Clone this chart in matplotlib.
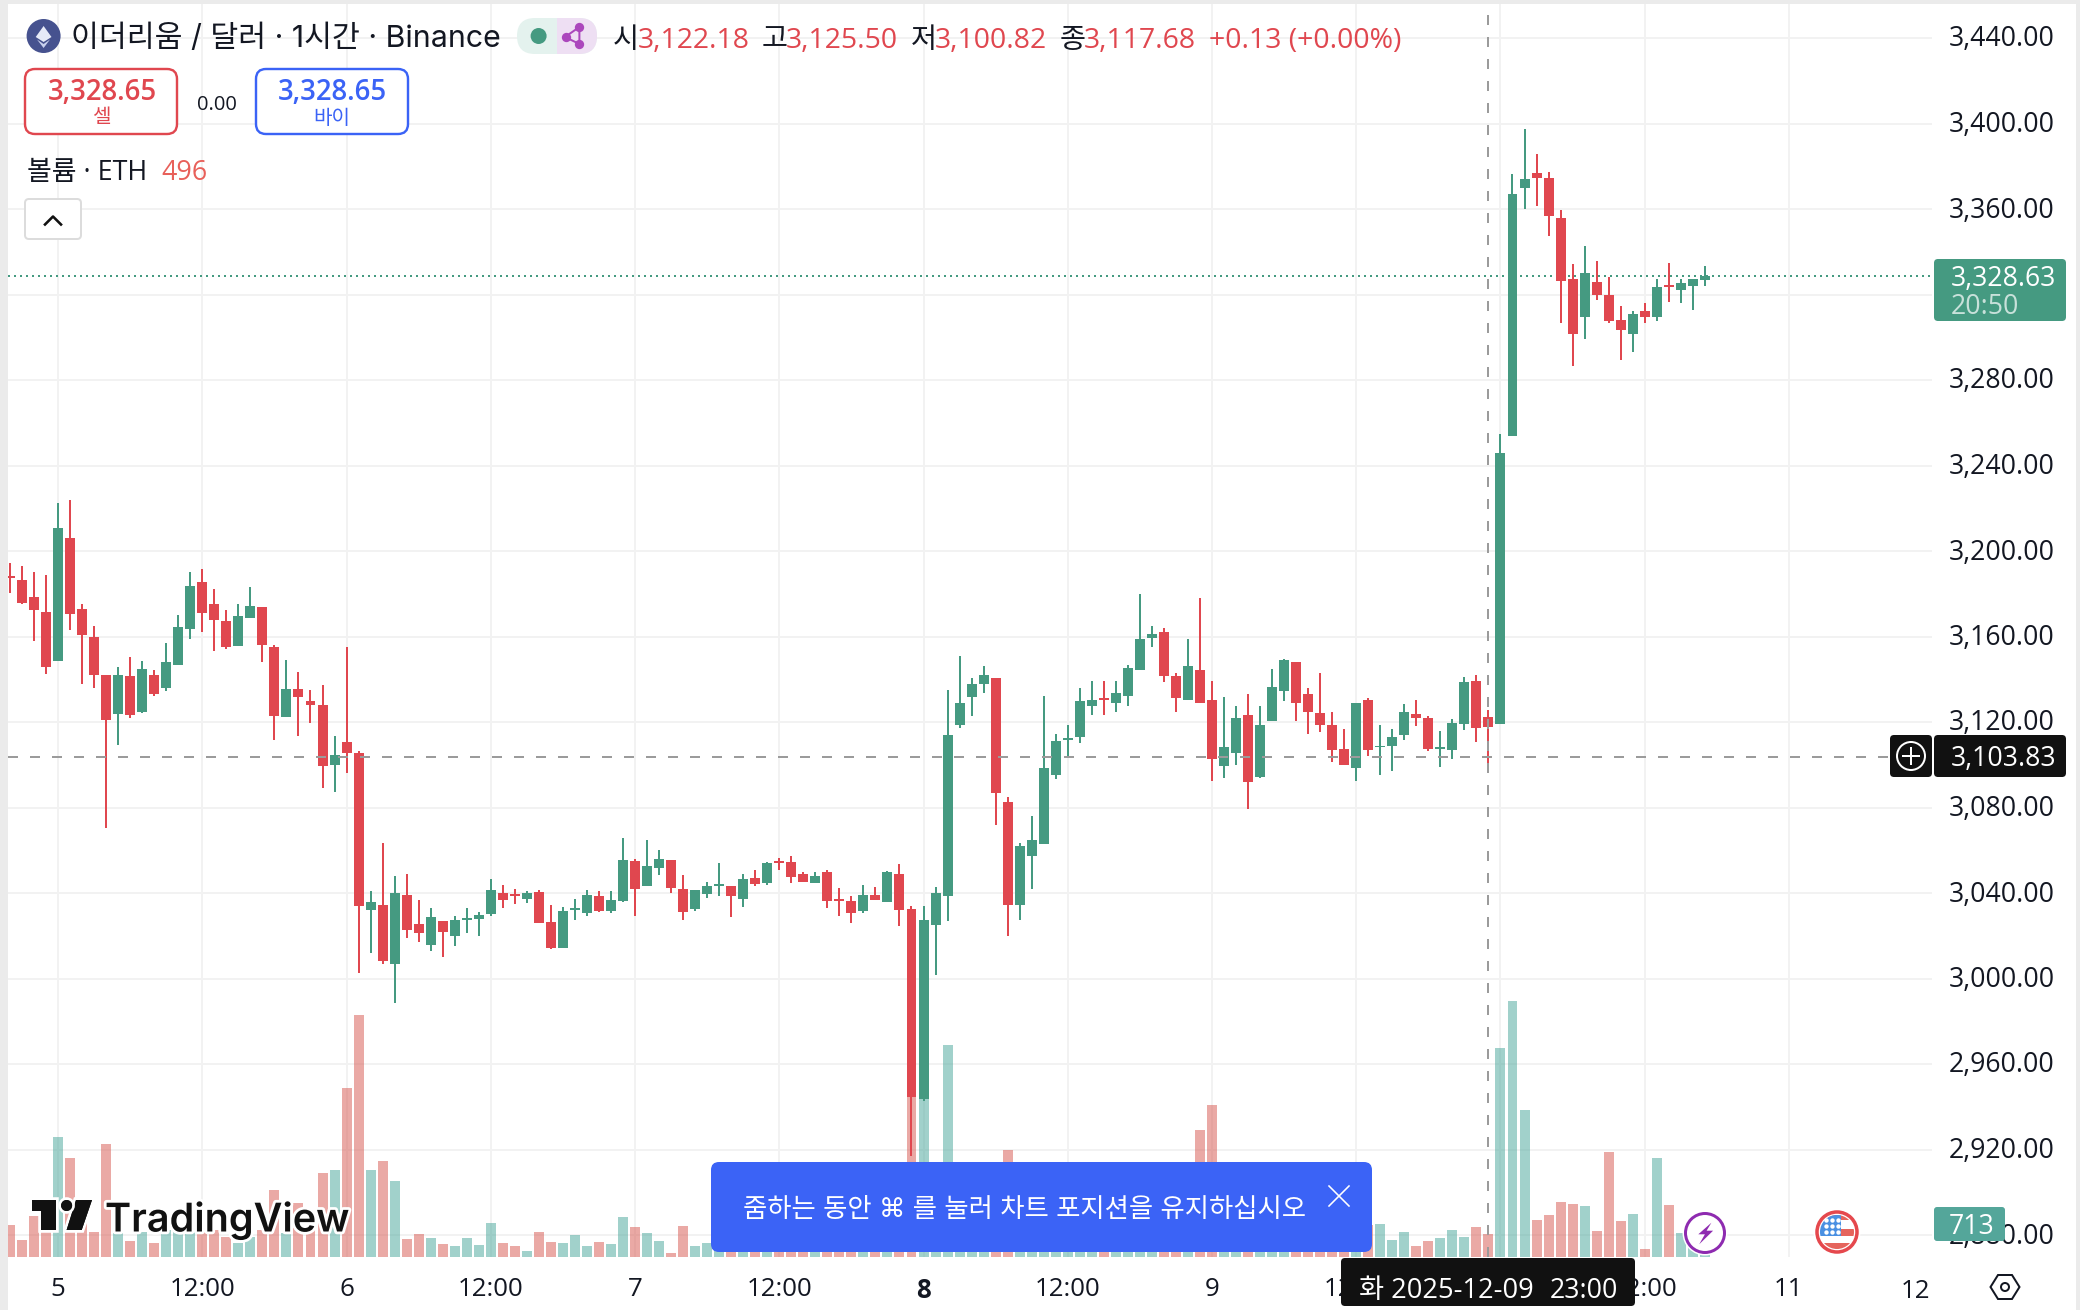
import matplotlib
matplotlib.use("Agg")
import matplotlib.pyplot as plt
from matplotlib.patches import FancyBboxPatch, Rectangle, Circle, Polygon, Ellipse
from matplotlib.transforms import ScaledTranslation
import matplotlib.patheffects as pe

NUM = ['Open Sans', 'Noto Sans CJK KR', 'DejaVu Sans']
plt.rcParams['font.family'] = ['Inter', 'Noto Sans CJK KR', 'DejaVu Sans']
plt.rcParams['lines.scale_dashes'] = False

# ---------- data (hourly candles, first candle = 4 Dec 20:00) ----------
opens = [
3188.3,3186.4,3178.4,3171.4,3148.5,3206.1,3172.8,3159.7,3141.9,3123.7,
3141.5,3124.6,3141.9,3135.9,3146.6,3163.5,3185.5,3175.2,3167.2,3155.5,
3168.6,3173.8,3155.0,3122.3,3135.4,3129.8,3127.9,3099.8,3110.6,3105.4,
3032.0,3034.3,3006.7,3039.0,3025.4,3015.6,3026.8,3019.8,3027.3,3027.7,
3030.1,3039.9,3039.4,3037.3,3040.6,3026.5,3014.3,3032.1,3030.7,3038.7,
3031.7,3036.3,3055.1,3043.4,3051.8,3055.5,3042.0,3032.6,3039.6,3043.4,
3043.4,3037.3,3047.1,3044.8,3055.1,3054.6,3049.0,3044.8,3049.9,3037.3,
3036.3,3031.7,3039.1,3035.9,3049.0,3032.6,2943.6,3025.2,3038.8,3118.8,
3131.5,3137.6,3140.4,3082.8,3034.6,3057.5,3062.7,3095.4,3111.4,3112.8,
3127.7,3131.0,3128.7,3132.0,3144.1,3159.1,3161.9,3141.3,3130.5,3144.1,
3130.5,3099.2,3105.7,3123.5,3094.5,3120.7,3134.3,3148.3,3132.9,3124.0,
3118.8,3107.6,3098.7,3130.1,3108.1,3109.0,3113.9,3123.7,3121.9,3107.4,
3106.9,3119.1,3139.2,3122.18,3119.0,3253.8,3370.0,3377.0,3374.7,3356.0,
3327.4,3309.6,3326.0,3319.9,3308.2,3301.7,3312.5,3309.6,3324.6,3322.3,
3324.2,3327.0]
highs = [
3194.4,3193.0,3190.1,3188.7,3222.4,3223.8,3175.2,3164.9,3141.9,3145.7,
3150.4,3148.5,3144.3,3156.9,3170.0,3190.1,3191.5,3182.2,3172.4,3175.2,
3183.1,3173.8,3156.0,3149.0,3143.3,3134.9,3137.3,3113.4,3155.0,3106.4,
3040.9,3063.3,3047.9,3048.8,3036.6,3032.9,3026.8,3029.2,3032.9,3031.0,
3046.5,3043.7,3041.8,3041.0,3041.5,3034.5,3033.5,3037.3,3041.5,3041.0,
3041.0,3065.8,3056.0,3064.9,3060.2,3055.5,3048.5,3041.5,3045.2,3054.1,
3043.4,3049.0,3050.8,3054.6,3056.5,3057.4,3049.9,3049.9,3050.8,3042.4,
3038.7,3043.8,3042.9,3050.4,3053.6,3034.0,3034.0,3042.6,3134.8,3150.7,
3140.8,3146.0,3140.4,3084.7,3063.6,3075.8,3132.0,3114.6,3118.8,3135.7,
3139.0,3139.4,3139.0,3146.9,3179.7,3164.7,3163.8,3142.7,3158.6,3177.8,
3139.4,3131.5,3127.3,3132.9,3127.3,3144.6,3149.7,3148.3,3135.7,3142.7,
3124.5,3116.5,3129.1,3131.0,3118.4,3116.5,3128.4,3130.3,3122.8,3115.8,
3121.4,3141.1,3142.0,3125.50,3254.8,3376.6,3397.6,3385.9,3377.5,3359.7,
3334.4,3342.9,3335.9,3328.4,3314.8,3312.5,3316.2,3327.4,3334.9,3327.4,
3327.4,3333.5]
lows = [
3180.3,3175.2,3157.9,3142.4,3148.5,3163.0,3137.7,3135.9,3070.3,3109.2,
3121.8,3124.2,3132.1,3134.5,3146.6,3158.8,3162.1,3153.2,3154.1,3155.5,
3168.6,3148.0,3111.5,3122.3,3113.4,3119.5,3089.1,3087.2,3096.1,3002.5,
3011.8,3006.7,2988.4,3018.9,3017.0,3012.8,3010.0,3015.1,3021.2,3019.8,
3029.2,3032.9,3034.8,3035.4,3026.0,3013.9,3014.3,3027.4,3029.3,3031.2,
3030.7,3035.9,3029.3,3043.4,3048.5,3040.1,3027.4,3031.7,3037.7,3038.7,
3028.9,3033.5,3043.4,3043.8,3050.8,3044.8,3045.2,3044.8,3033.1,3029.3,
3026.0,3030.7,3036.8,3035.9,3024.6,2917.0,2942.7,3001.6,3026.7,3117.4,
3122.6,3133.8,3071.6,3020.1,3027.6,3042.1,3062.7,3093.1,3103.9,3110.0,
3123.1,3123.1,3124.5,3127.3,3144.1,3154.9,3138.5,3124.9,3130.5,3129.1,
3092.6,3094.0,3100.1,3079.5,3094.0,3120.7,3129.6,3120.3,3114.2,3115.5,
3101.5,3099.7,3092.2,3103.9,3095.4,3097.3,3111.6,3118.1,3106.4,3098.9,
3102.7,3116.3,3110.6,3100.82,3119.0,3253.8,3360.2,3361.6,3347.6,3306.8,
3286.7,3299.3,3317.6,3306.8,3289.5,3293.3,3306.8,3307.8,3316.7,3316.2,
3312.9,3324.2]
closes = [
3187.3,3175.6,3172.4,3145.7,3210.7,3170.5,3160.7,3141.9,3120.9,3141.9,
3123.2,3144.7,3133.0,3148.0,3164.4,3183.6,3171.0,3167.7,3155.0,3169.6,
3174.2,3156.0,3122.8,3135.4,3131.6,3127.9,3099.4,3104.5,3105.4,3033.8,
3035.7,3008.1,3039.9,3022.6,3021.2,3028.7,3021.7,3027.3,3028.2,3029.6,
3041.3,3036.6,3038.5,3040.1,3026.0,3014.3,3031.7,3033.1,3039.1,3031.7,
3036.8,3055.5,3042.0,3052.7,3056.0,3042.4,3031.2,3041.5,3043.4,3044.3,
3038.7,3046.6,3044.3,3054.1,3054.1,3047.6,3045.2,3048.0,3036.3,3036.3,
3030.7,3039.1,3036.8,3049.9,3032.1,2944.6,3027.4,3039.8,3113.7,3129.1,
3138.0,3141.8,3086.6,3034.6,3062.2,3064.6,3098.7,3110.9,3112.3,3129.6,
3130.1,3130.1,3133.4,3145.1,3158.6,3161.4,3141.3,3131.0,3146.0,3129.1,
3102.5,3108.1,3122.1,3091.9,3118.4,3136.2,3148.8,3128.7,3124.5,3118.8,
3107.1,3099.7,3129.1,3106.7,3109.0,3113.2,3124.7,3121.9,3107.4,3108.3,
3119.5,3138.7,3117.2,3117.68,3245.9,3367.2,3374.2,3374.7,3356.9,3326.5,
3301.7,3330.2,3319.9,3307.8,3303.6,3311.0,3309.6,3323.7,3323.7,3325.6,
3327.4,3328.63]
volumes = [
688,366,882,581,2581,2129,868,538,2431,509,
344,538,301,581,581,581,581,581,437,301,
437,581,1441,509,1154,581,1807,1871,3635,5205,
1871,2065,1635,387,495,409,280,237,409,258,
731,301,237,129,538,323,301,473,237,323,
280,860,645,516,344,86,667,237,301,301,
410,350,290,380,300,260,330,290,420,360,
300,340,280,450,620,3500,3450,500,4560,500,
380,330,900,2301,520,420,900,600,350,420,
300,280,260,300,480,300,420,350,800,2731,
3269,1100,600,900,600,350,300,450,300,280,
320,400,300,680,710,366,538,237,344,409,
581,430,645,496,4495,5506,3161,796,903,1183,
1140,1097,559,2258,774,925,172,2129,1118,516,
258,713]
hours = list(range(1, len(opens) + 1))

tick_hours = [5, 17, 29, 41, 53, 65, 77, 89, 101, 113, 125, 137, 149]
tick_labels = ['5', '12:00', '6', '12:00', '7', '12:00', '8', '12:00', '9', '12:00', '10', '12:00', '11']
price_ticks = list(range(2880, 3441, 40))
cross_hour, cross_price = 124, 3103.83
last_price = 3328.63

GREEN, RED, BLUE, INK = '#459A81', '#E0474F', '#3B63F6', '#131722'
W, H = 2080, 1310
fig = plt.figure(figsize=(W / 100, H / 100), dpi=100, facecolor='white')
px = 0.72  # points per pixel


def rect_axes(z):
    L, R, T, B = 8, 1932, 4, 1257
    return fig.add_axes([L / W, 1 - B / H, (R - L) / W, (B - T) / H], zorder=z)


XLIM = (1 + (8 - 10) / 12.02, 1 + (1932 - 10) / 12.02)
YLIM = (3200 - (1257 - 551) / 2.1375, 3200 + (551 - 4) / 2.1375)

# grid layer
bg = rect_axes(0)
bg.set_xlim(XLIM); bg.set_ylim(YLIM)
bg.set_xticks(tick_hours); bg.set_yticks(price_ticks)
bg.grid(True, color='#F2F2F2', lw=2 * px)
bg.tick_params(length=0, labelbottom=False, labelleft=False)
for s in bg.spines.values():
    s.set_visible(False)

# volume layer
av = rect_axes(1)
av.patch.set_visible(False)
av.set_xlim(XLIM); av.set_ylim(0, (1257 - 4) * 21.5)
av.axis('off')
vcol = ['#D7554D' if c < o else '#45A599' for o, c in zip(opens, closes)]
av.bar(hours, volumes, width=0.83, color=vcol, alpha=0.5, lw=0)

# candle layer
ax = rect_axes(2)
ax.patch.set_visible(False)
ax.set_xlim(XLIM); ax.set_ylim(YLIM)
for s in ax.spines.values():
    s.set_visible(False)
ccol = [RED if c < o else GREEN for o, c in zip(opens, closes)]
ax.axhline(last_price, color=GREEN, lw=2 * px, ls=(0, (2 * px, 4 * px)), zorder=1)
ax.vlines(hours, lows, highs, colors=ccol, lw=2 * px, zorder=2)
ax.bar(hours, [abs(c - o) for o, c in zip(opens, closes)],
       bottom=[min(o, c) for o, c in zip(opens, closes)],
       width=0.83, color=ccol, lw=0, zorder=3)
ax.axhline(cross_price, color='#9B9B9B', lw=2 * px, ls=(0, (10 * px, 12 * px)), zorder=4)
ax.axvline(cross_hour, color='#9B9B9B', lw=2 * px, ls=(0, (10 * px, 12 * px)), zorder=4)

ax.yaxis.tick_right()
ax.set_yticks(price_ticks)
ax.set_yticklabels([f'{p:,.2f}' for p in price_ticks], fontsize=19.2, color=INK, ha='right', family=NUM)
ax.tick_params(axis='y', length=0, pad=123 * px)
ax.set_xticks(tick_hours)
ax.set_xticklabels(tick_labels, fontsize=18.6, color=INK, family=NUM)
ax.tick_params(axis='x', length=0, pad=19.5 * px)
up2 = ScaledTranslation(0, 2 * px / 72, fig.dpi_scale_trans)
for lab in ax.get_yticklabels():
    lab.set_transform(lab.get_transform() + up2)
for lab in ax.get_xticklabels():
    if lab.get_text() == '8':
        lab.set_fontweight('bold')

# overlay in pixel coordinates for the interface furniture
ov = fig.add_axes([0, 0, 1, 1], zorder=10)
ov.set_xlim(0, W); ov.set_ylim(H, 0)
ov.patch.set_visible(False)
ov.axis('off')


def T(x, y, s, size=19.2, color=INK, ha='left', va='center_baseline', family=NUM, **kw):
    return ov.text(x, y, s, fontsize=size, color=color, ha=ha, va=va, family=family, **kw)


def box(x0, y0, x1, y1, r=6, fc='white', ec='none', lw=0, z=2):
    p = FancyBboxPatch((x0, y0), x1 - x0, y1 - y0, boxstyle=f'round,pad=0,rounding_size={r}',
                       fc=fc, ec=ec, lw=lw * px, zorder=z)
    ov.add_patch(p)
    return p


# outer frame
ov.add_patch(Rectangle((0, 0), 8, H, fc='#EBEBEB', lw=0))
ov.add_patch(Rectangle((0, 0), W, 4, fc='#EBEBEB', lw=0))
ov.add_patch(Rectangle((2076, 0), 4, H, fc='#EBEBEB', lw=0))

# "12" date label, clipped by the price scale edge
T(1915, 1288, '12', size=18.6, ha='center')
ov.add_patch(Rectangle((1931, 1258), 140, 50, fc='white', lw=0, zorder=1))

# header
ov.add_patch(Circle((43.6, 36), 17, fc='#46528F', lw=0))
ov.add_patch(Polygon([(43.6, 26), (51.5, 37), (43.6, 42), (35.7, 37)], fc='#E6EAF7', lw=0, zorder=3))
ov.add_patch(Polygon([(43.6, 44), (50, 39.5), (43.6, 48), (37, 39.5)], fc='#C9D1EE', lw=0, zorder=3))
T(71, 36, '이더리움 / 달러 · 1시간 · Binance', size=21.8, family=plt.rcParams['font.family'])
ov.add_patch(FancyBboxPatch((517, 18), 80, 36, boxstyle='round,pad=0,rounding_size=18', fc='#E4F2EE', lw=0))
clip = FancyBboxPatch((517, 18), 80, 36, boxstyle='round,pad=0,rounding_size=18', fc='none', lw=0, transform=ov.transData)
ov.add_patch(clip)
rp = Rectangle((557, 18), 40, 36, fc='#EEDFF3', lw=0, zorder=2)
ov.add_patch(rp); rp.set_clip_path(clip)
ov.add_patch(Ellipse((538.6, 36), 16, 16, fc=GREEN, lw=0, zorder=3))
ov.plot([579.4, 565, 579.4, 579.4], [27, 37, 44, 27], color='#AB47BC', lw=2 * px, zorder=3)
ov.scatter([579.4, 566, 579.4], [27, 37, 44], s=45, color='#AB47BC', lw=0, zorder=4)

hdr = [(613, '시', INK), (638, '3,122.18', RED), (762, '고', INK), (786, '3,125.50', RED),
       (911, '저', INK), (935, '3,100.82', RED), (1060, '종', INK), (1084, '3,117.68', RED),
       (1209, '+0.13 (+0.00%)', RED)]
for x, s, c in hdr:
    T(x, 37, s, size=20.4, color=c)

# buy / sell
box(25, 69, 177, 134, r=10, ec=RED, lw=2.4)
T(102, 89, '3,328.65', size=19.8, color=RED, ha='center', fontweight='semibold')
T(102, 116, '셀', size=14.5, color=RED, ha='center')
T(217, 102, '0.00', size=14.5, ha='center')
box(256, 69, 408, 134, r=10, ec=BLUE, lw=2.4)
T(332, 89, '3,328.65', size=19.8, color=BLUE, ha='center', fontweight='semibold')
T(332, 116, '바이', size=14.5, color=BLUE, ha='center')

T(27, 169, '볼륨 · ETH', size=19.4)
T(161, 169, '496', size=19.4, color='#E8605A')
box(25, 199, 81, 239, r=4, ec='#DCDCDC', lw=2)
ov.plot([45, 53, 61], [224.5, 216.5, 224.5], color='#111111', lw=2.6 * px)

# watermark
halo = [pe.withStroke(linewidth=4, foreground='white')]
tp = Polygon([(32, 1200), (56, 1200), (56, 1230), (41, 1230), (41, 1211), (32, 1211)], fc='#111111', lw=0, zorder=5)
sl = Polygon([(76, 1200), (92, 1200), (81.7, 1230), (66.6, 1230)], fc='#111111', lw=0, zorder=5)
dt = Circle((66.6, 1205.5), 5.5, fc='#111111', lw=0, zorder=5)
for p in (tp, sl, dt):
    p.set_path_effects(halo + [pe.Normal()])
    ov.add_patch(p)
T(105, 1216, 'TradingView', size=28.5, color='#111111', fontweight='semibold', zorder=5,
  path_effects=halo, family=plt.rcParams['font.family'])

# zoom hint banner
box(711, 1162, 1372, 1252, r=8, fc=BLUE, z=6)
T(743, 1207, '줌하는 동안 ⌘ 를 눌러 차트 포지션을 유지하십시오', size=19, color='white', zorder=7,
  family=plt.rcParams['font.family'])
ov.plot([1329, 1349], [1186, 1206], color='white', lw=1.6 * px, zorder=7)
ov.plot([1329, 1349], [1206, 1186], color='white', lw=1.6 * px, zorder=7)

# event icons
ov.add_patch(Circle((1705, 1233), 22.5, fc='white', lw=0, zorder=6))
ov.add_patch(Circle((1705, 1233), 19.5, fc='white', ec='#8E2BB0', lw=3 * px, zorder=6))
ov.add_patch(Polygon([(1711.4, 1222.7), (1698.3, 1234.3), (1704.9, 1234.3), (1699.2, 1244.3),
                      (1713.1, 1230.7), (1706.6, 1230.7)], fc='#8E2BB0', lw=0, zorder=7))
ov.add_patch(Circle((1837, 1232), 23.5, fc='white', lw=0, zorder=6))
ring = Circle((1837, 1232), 20, fc='white', ec='#E5484D', lw=3.5 * px, zorder=6)
ov.add_patch(ring)
fclip = Circle((1837, 1232), 17, transform=ov.transData)
flag = [Rectangle((1820, 1214), 34, 6, fc='#E5645C', lw=0, zorder=7),
        Rectangle((1841, 1228.5), 14, 7, fc='#E5645C', lw=0, zorder=7),
        Rectangle((1820, 1243), 34, 6, fc='#E5645C', lw=0, zorder=7),
        Rectangle((1820, 1214), 21, 22, fc='#4A90E2', lw=0, zorder=8)]
for p in flag:
    ov.add_patch(p); p.set_clip_path(fclip)
ov.scatter([1826, 1832, 1838, 1826, 1832, 1838, 1826, 1832, 1838],
           [1220, 1220, 1220, 1226, 1226, 1226, 1231.5, 1231.5, 1231.5], s=10, color='white', lw=0, zorder=9)

# bottom date tag
box(1341, 1258, 1635, 1306, r=4, fc='#111111', z=6)
T(1359, 1287, '화 2025-12-09', size=19.6, color='white', zorder=7)
T(1618, 1287, '23:00', size=19.2, color='white', ha='right', zorder=7)

# price tags
box(1934, 259, 2066, 321, r=4, fc=GREEN, z=6)
T(1951, 275, '3,328.63', color='white', zorder=7)
T(1951, 303, '20:50', color='#C8E1DA', zorder=7)

box(1890, 735, 1932, 777, r=4, fc='#111111', z=6)
box(1934, 735, 2066, 777, r=4, fc='#111111', z=6)
T(1951, 755, '3,103.83', color='white', zorder=7)
ov.add_patch(Circle((1911, 756), 14, fc='none', ec='white', lw=2 * px, zorder=7))
ov.plot([1903, 1919], [756, 756], color='white', lw=2 * px, zorder=7)
ov.plot([1911, 1911], [748, 764], color='white', lw=2 * px, zorder=7)

box(1934, 1207, 2005, 1241, r=3, fc='#54A69A', z=6)
T(1972, 1223, '713', color='white', ha='center', zorder=7)

# settings hexagon
ov.add_patch(Polygon([(1990.5, 1287), (1998, 1275), (2012, 1275), (2019.5, 1287), (2012, 1299), (1998, 1299)],
                     fc='none', ec='#131722', lw=2 * px, zorder=5))
ov.add_patch(Circle((2005, 1287), 4, fc='none', ec='#131722', lw=2 * px, zorder=5))

fig.savefig('out.png', dpi=100)
